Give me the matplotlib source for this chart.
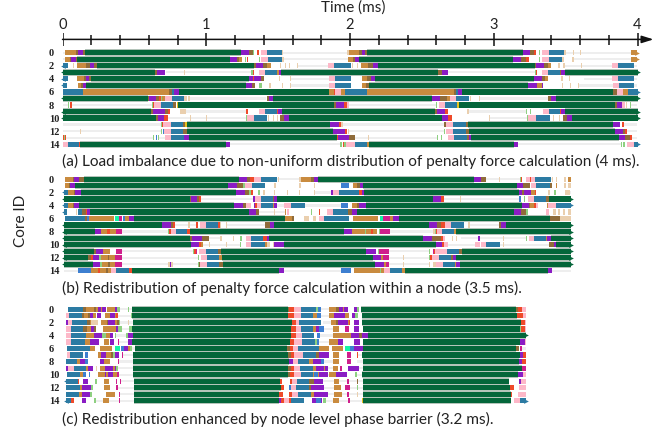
import matplotlib
matplotlib.use("Agg")
import matplotlib.pyplot as plt

plt.rcParams['font.family'] = ['Lato', 'DejaVu Sans']

W, H = 668, 434
UNITS_PER_MS = 432  # trace samples per ms

# each row: state letter + sample where that state ends
PANEL_A = [
    ".9 o40 d48 p62 d67 g537 p559 d572 l577 w584 r592 w597 k616 b659 f664 .692 f694 .704 f706 .856 f861 o891 d899 p909 d914 g1384 p1404 d1416 r1424 w1432 l1436 w1440 k1462 b1508 f1514 .1534 f1536 .1556 f1558 .1709 o1726",
    ".9 o23 d27 p40 d44 g502 p525 d530 o540 w547 l550 w554 r558 w590 l594 w598 k618 b660 f665 .674 f676 .858 o872 d878 p892 g1354 p1379 d1394 r1402 w1432 l1436 w1441 k1462 b1502 f1508 w1532 f1536 .1554 f1556 .1709 o1726",
    "b16 w31 f36 w44 o70 d82 p96 d103 g577 d583 p602 d615 o627 w655 f658 w669 f672 w680 f684 w704 f708 .797 k817 b868 w870 f874 w884 f888 w897 o918 d932 p947 g1419 d1424 p1446 d1459 o1469 w1489 f1494 w1504 f1509 .1559 f1561 .1650 k1669 b1716 .1726",
    "g277 d285 p307 w310 .364 f367 .567 l571 r577 w590 k609 b645 o650 p657 g1129 d1141 p1159 .1215 f1217 .1419 l1422 r1426 w1441 k1460 b1494 d1499 p1509 g1728",
    "b17 w45 o65 d72 p80 d85 g559 p572 r576 p596 d607 w650 f653 w685 f688 .710 f712 .800 k820 b866 w899 o916 d928 p938 g1416 p1440 d1450 o1458 w1499 f1504 w1522 f1524 w1539 f1541 w1566 f1568 .1650 k1670 b1716 .1726",
    "b15 w46 o55 d62 p72 g550 p570 d578 w590 l600 w620 f626 w660 f662 w685 f687 .800 k820 b866 w899 o912 d920 g1399 p1425 o1440 p1444 w1501 f1504 w1526 f1528 w1549 f1551 .1654 k1672 b1716 .1726",
    "b62 o320 d328 b334 p350 g800 o815 r820 k837 o850 b916 o1176 d1184 b1189 p1202 g1654 d1666 k1684 o1699 b1728",
    "g256 d260 p282 d290 r295 l300 o308 k328 b364 f373 w378 f384 .612 w614 d620 p632 g1109 p1135 d1155 o1164 k1184 b1221 w1225 f1228 w1252 f1254 .1460 d1468 p1482 g1728",
    ".16 l20 w23 r30 .268 l272 r276 k296 b332 d340 w343 y346 g817 d822 p845 r855 k862 .1122 l1126 w1130 k1149 b1186 y1192 g1659 d1666 p1680 w1682 k1690 w1694 f1697 w1706 l1709 .1726",
    "g267 d273 p307 d318 r323 w352 f372 .552 r557 w590 k609 b644 r649 p660 g1119 d1126 p1150 r1158 w1216 f1222 .1394 l1397 w1405 l1408 w1444 k1462 b1494 r1499 p1509 g1728",
    "g282 d287 p305 r318 .382 f386 .431 f435 .550 l555 k577 b615 w618 f622 w632 f635 w645 f648 w655 d665 p682 g1141 p1160 r1172 w1254 f1256 w1282 f1285 .1397 l1400 k1422 b1464 w1474 f1478 w1492 f1495 w1505 d1515 p1532 g1728",
    ".295 l298 r302 k325 b362 d368 y373 g805 p832 r838 f843 .1146 d1152 k1174 b1212 d1219 g1654 p1676 w1682 r1686 .1726",
    ".52 f57 .295 l298 w302 B305 k325 b362 d374 g812 p849 r856 w858 f861 .1146 l1149 w1154 k1174 b1212 d1222 g1661 p1684 d1690 r1697 .1726",
    "r4 l8 r12 .272 l274 w280 B283 w287 l290 .308 k327 b364 p379 g825 r829 p860 d879 .919 f922 .1126 l1129 w1136 l1139 w1148 l1150 w1159 k1177 b1216 d1222 p1229 g1672 p1690 d1705 r1710 .1726",
    "k16 b49 r53 g490 p504 .835 l839 w843 r847 l852 k880 b916 o921 g1356 p1369 .1679 l1682 w1685 l1690 w1697 k1716 b1728",
]

PANEL_B = [
    "w9 o31 d34 p50 d64 g530 p553 d563 r575 k597 b644 .647 f650 .692 f694 .712 f717 o747 d755 p768 g1236 p1259 d1274 .1312 f1314 .1374 l1377 r1381 w1392 k1404 r1408 k1421 b1467 .1472 f1475 w1484 f1487 w1508 f1512 w1519 o1529",
    "w9 o20 d24 p37 g498 p524 d542 l548 k569 b609 w637 f642 w712 f717 w757 f760 w836 B861 w872 o886 d894 p904 g1366 p1384 d1404 w1408 k1422 b1464 d1470 w1482 o1487 w1508 f1512 w1519 f1529",
    "b16 o34 d38 p55 g520 p547 d560 l566 r572 w589 l593 w604 f608 w637 f640 w674 f677 w710 f714 w757 f760 .806 p812 k830 b892 r899 p907 g1372 p1382 d1387 p1407 o1419 r1424 w1459 f1464 w1476 l1482 w1509 f1526 .1529",
    "g382 d386 p404 d409 r415 .472 f474 .572 p580 k597 b632 d637 p645 g1114 p1137 r1147 .1196 f1198 .1371 B1379 w1386 l1389 w1399 k1417 b1454 d1462 g1529",
    "b16 o31 d36 p49 g514 p542 d552 k567 w574 p580 r585 k597 b632 o636 p644 .667 k687 b730 .836 B859 w870 o886 d890 p912 g1381 p1401 d1406 o1416 r1422 k1428 w1456 o1460 k1484 b1529",
    "b15 w40 f44 w47 b59 d70 r75 p84 g560 p582 d590 .637 f639 .668 o671 w675 k680 w746 l750 w770 r774 w794 k814 b859 d869 p884 g1357 p1379 d1394 l1398 w1452 k1462 w1474 f1483 w1488 f1495 w1504 f1510 w1520 f1529",
    "w9 b67 d74 B80 o155 w157 t170 m179 w182 B188 o200 p215 g670 o690 d697 w727 f742 w752 f762 w770 k787 b862 w872 o947 w954 t962 m984 o992 p1012 g1466 d1494 f1529",
    "g299 p325 d333 r338 .378 f382 .402 r407 w412 k432 b467 r472 f476 w490 f493 .610 d624 p637 g1102 p1126 d1137 r1149 k1167 b1206 w1220 f1224 .1312 d1319 p1334 g1529",
    "g97 p117 o135 r142 o162 m179 .318 l321 r326 k342 b374 r382 g846 p869 o908 l912 o928 r932 o946 w952 l955 m984 .1114 f1118 l1122 r1126 k1141 b1176 o1184 g1529",
    "g384 d390 p419 d440 .472 f480 w512 f515 w534 l538 w550 k567 b604 r614 p620 g1084 p1109 d1137 r1142 k1150 w1172 f1175 w1184 f1187 w1197 f1199 .1250 p1256 .1324 f1326 .1392 l1396 w1402 k1417 b1452 o1456 p1469 g1529",
    "g387 p409 r415 o422 .440 f442 .472 f474 .492 f494 .534 l537 w550 k567 b610 o614 f625 w632 f637 p665 g1122 p1139 r1146 k1160 .1240 k1256 w1258 k1274 b1314 .1324 f1326 .1461 d1476 p1484 g1529",
    "g95 d100 p122 o142 w160 m180 .392 l396 r400 m404 w411 k432 b467 d477 g912 p941 w948 l952 m980 .1102 l1105 w1112 m1115 r1120 k1156 b1192 d1201 g1529",
    "g77 d87 r92 p110 l116 o137 d140 o157 m180 .205 f207 .407 l410 w417 k434 b469 o479 g932 p958 o964 m982 .1024 f1026 .1100 l1104 r1110 k1131 b1169 d1173 p1182 g1529",
    "g92 p114 l118 o137 d142 o157 m180 .205 f207 .317 f322 p327 f332 .407 l410 d414 k434 b469 d482 g939 p966 o971 m982 .1024 f1026 .1100 f1104 w1112 f1122 k1144 b1179 o1184 p1194 g1529",
    ".47 B87 o108 r112 o132 d137 o147 k162 b200 r208 g650 p667 .837 B866 w876 o954 l958 o967 k984 b1020 o1029 g1459 p1472 .1529",
]

PANEL_C = [
    "w16 b62 d72 o95 d102 o107 p117 o120 p130 w134 o157 p164 l172 .197 l200 .209 g677 d680 r697 k717 b762 l767 B777 .800 o822 d832 p842 o847 p857 w875 p884 l890 w898 g1364 d1370 r1382 k1392",
    "w12 k19 b59 d65 o77 d84 p92 o100 w105 p117 w127 o144 p157 o162 r168 .205 l209 g677 r697 k717 b754 o764 B777 .800 o817 p850 o862 w870 p880 l887 w900 g1367 r1384 k1392",
    "p17 k30 b74 d82 o87 f107 w115 o134 d137 p157 o164 d170 l172 .197 f199 .212 g690 r702 k712 b777 w782 .807 o822 d827 p857 o862 r865 w877 p890 w900 g1379 r1390 k1392",
    "w12 k27 b62 d74 o87 p94 d102 w122 o160 p167 l179 .199 l209 g687 r702 k717 b752 o762 p772 B787 .814 o832 w850 m860 w875 p890 w902 g1374 l1378 r1390 k1392",
    "w12 k27 b72 o95 p120 l132 o144 p152 w158 l162 .192 l197 p212 g687 r702 k719 b757 w764 B774 .812 o867 p892 d900 p917 g1392",
    "w12 k25 b67 o84 p110 w124 o140 w144 p154 w167 m170 .197 p209 g684 r697 k720 b760 l764 B770 .802 o827 p844 w877 p894 w902 g1374 p1390 k1392",
    "w14 b84 o97 w114 o150 w157 t172 w177 B184 p197 o203 l210 .217 g675 d684 r692 k707 b772 o802 w809 o844 w850 t865 B877 p902 g1364 d1372 w1374 m1380 .1392",
    "w14 k24 b62 w67 B77 w108 o117 p132 o145 d152 l157 p170 w178 m182 .212 g677 d686 r697 k724 b762 d770 p802 w812 o830 w854 m866 w884 r889 .900 g1374 p1385 r1392",
    "w12 b45 o52 p67 B78 w112 p124 o142 w167 m171 .212 g680 p692 k707 b742 o754 p777 B785 .812 o832 w854 m866 w884 y886 .902 g1372 p1382 r1392",
    "p17 k34 b70 o77 p92 w102 f104 w112 o129 p152 o157 p160 l168 .199 f201 .212 g677 d687 r697 k714 b752 o762 p787 o790 p799 .812 o827 w835 m839 w858 p892 .902 g1380 m1392",
    "w15 b52 o62 B70 w80 B84 w107 o127 p132 o137 p152 o164 m170 .212 g677 d685 r697 k717 b752 o757 B767 o772 p797 .802 o822 p854 w880 l886 .900 g1370 p1384 k1392",
    "b47 r50 w62 p77 w97 l104 w124 o140 w162 m165 w174 m177 .214 g654 r660 w684 r690 k704 b742 d757 p782 .817 o832 .854 m862 .884 d888 .902 g1342 w1372 p1377 k1392",
    "w12 b52 o60 p87 l92 w124 o142 w160 m168 .214 g657 r667 w682 B688 k702 b742 d747 p787 .817 o837 w850 m865 .884 l887 .902 g1344 r1357 w1372 k1392",
    "w10 b50 o58 p82 l90 w130 o157 w170 m174 .214 g652 r662 w682 r690 k707 b747 o757 p797 .817 o839 .854 m862 .886 f889 .902 g1347 r1352 w1370 k1392",
    "b27 r34 w60 p70 w96 l100 .122 o140 .170 m174 .214 y216 g652 p656 r667 k682 r687 b725 w750 p762 B777 p781 w784 l792 .812 o830 .857 m863 .900 y904 g1347 w1357 k1374 b1392",
]

CAPTIONS = [
    "(a) Load imbalance due to non-uniform distribution of penalty force calculation (4 ms).",
    "(b) Redistribution of penalty force calculation within a node (3.5 ms).",
    "(c) Redistribution enhanced by node level phase barrier (3.2 ms).",
]

LEFT_CAPS = [[2, 3, 4, 5, 7, 9, 10], [2, 3, 4, 5, 7, 8, 9, 10, 11, 12, 13], [11, 14]]
RIGHT_CAPS = [[0, 1, 3, 6, 7, 9, 10, 14], [3, 4, 7, 8, 9, 10, 11, 12, 13], [4, 14]]
ROW_START = [0, 6, 10]
ROW_TICKS = [0, 2, 4, 6, 8, 10, 12, 14]

COLORS = {
    'g': '#04663a', 'o': '#c98b3f', 'b': '#2c7ba3', 'k': '#fdb8c8', 'p': '#8a1cc4',
    'r': '#ee4a2a', 'm': '#cf1f8c', 'l': '#8ed081', 't': '#14f5a5', 'B': '#3d7fd0',
    'd': '#8f6b3a', 'y': '#e6c020', 'f': '#eacfae',
}


def parse_row(text, start):
    segs = []
    for item in text.split():
        end = int(item[1:])
        segs.append((item[0], start / UNITS_PER_MS, (end - start) / UNITS_PER_MS))
        start = end
    return segs


def pos(x0, y0, x1, y1):
    return [x0 / W, 1 - y1 / H, (x1 - x0) / W, (y1 - y0) / H]


fig = plt.figure(figsize=(W / 100, H / 100), dpi=100)
panel_tops = [52.7, 179.3, 309.3]
row_px = 6.54

for n, rows in enumerate([PANEL_A, PANEL_B, PANEL_C]):
    top = panel_tops[n]
    ax = fig.add_axes(pos(62.5, top - row_px / 2, 637.5, top + 14.5 * row_px))
    ax.set_xlim(0, 4)
    ax.set_ylim(14.5, -0.5)
    for side in ax.spines.values():
        side.set_visible(False)
    ax.set_xticks([])
    ax.set_yticks(ROW_TICKS)
    ax.set_yticklabels(ROW_TICKS, fontsize=7.5, fontweight='bold', family='Liberation Serif',
                       ha='left', color='#222222')
    ax.tick_params(axis='y', length=0, pad=9.7)
    ax.patch.set_visible(False)

    for r, text in enumerate(rows):
        segs = parse_row(text, ROW_START[n])
        for state, left, width in segs:
            if state == 'w':
                continue
            if state == '.':
                ax.barh(r, width, left=left, height=0.36, color='#eeeeee', linewidth=0)
                continue
            if state == 'g':
                ax.barh(r, width, left=left, height=1.0, color='#b4c4ba', linewidth=0)
            ax.barh(r, width, left=left, height=0.8, color=COLORS[state], linewidth=0)
        if r in LEFT_CAPS[n]:
            ax.plot(segs[0][1], r, marker='<', ms=3.4, mew=0, color=COLORS[segs[0][0]], clip_on=False)
        if r in RIGHT_CAPS[n]:
            ax.plot(segs[-1][1] + segs[-1][2], r, marker='>', ms=3.4, mew=0,
                    color=COLORS[segs[-1][0]], clip_on=False)

cap_y = [161, 288, 419]
for text, y in zip(CAPTIONS, cap_y):
    fig.text(62 / W, 1 - y / H, text, fontsize=11.05, va='center', ha='left', color='#222222')

fig.text(21 / W, 1 - 221 / H, "Core ID", fontsize=11, rotation=90, va='center', ha='center', color='#222222')
fig.text(353 / W, 1 - 8 / H, "Time (ms)", fontsize=11, va='center', ha='center', color='#222222')

# time axis on top
axis = fig.add_axes(pos(62.5, 31, 660, 51))
axis.set_xlim(0, (660 - 62.5) / 143.75)
axis.set_ylim(1, 0)
axis.axis('off')
tick_times = [i / 5 for i in range(21)]
for t in tick_times:
    major = t == int(t)
    axis.plot([t, t], [0.1, 0.75] if major else [0.2, 0.7], color='#111111', lw=1.1, solid_capstyle='butt')
axis.annotate('', xy=((653.5 - 62.5) / 143.75, 0.42), xytext=(0, 0.42),
              arrowprops=dict(arrowstyle='-|>,head_length=0.7,head_width=0.22', color='#111111', lw=1.1,
                              shrinkA=0, shrinkB=0))
for t in [0, 1, 2, 3, 4]:
    axis.text(t, -0.3, str(t), fontsize=10.5, ha='center', va='center', color='#222222', clip_on=False)

fig.savefig("out.png", dpi=100)
